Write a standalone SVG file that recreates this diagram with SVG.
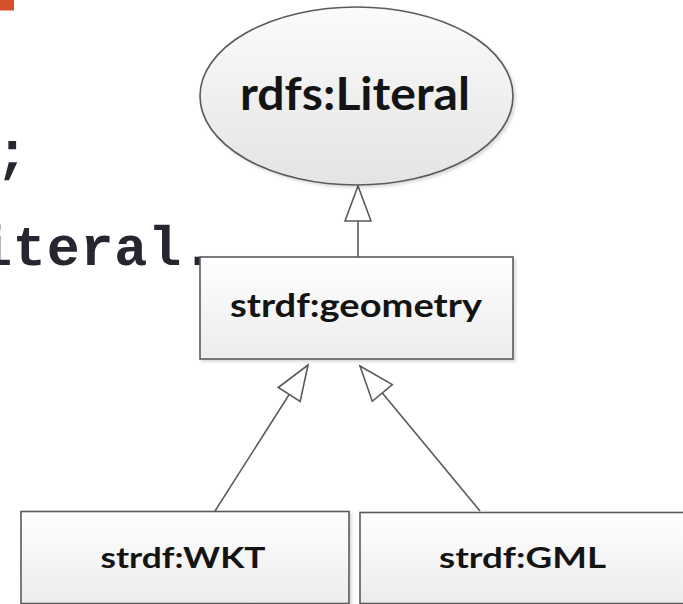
<svg xmlns="http://www.w3.org/2000/svg" width="683" height="604" viewBox="0 0 683 604">
  <style>
    .node-shape { stroke: #5a5a5a; stroke-width: 1.6; }
    .label { font-family: Lato, "Open Sans", "Liberation Sans", sans-serif; font-weight: bold; fill: #141414; text-anchor: middle; }
    .code { font-family: "Liberation Mono", "DejaVu Sans Mono", monospace; font-weight: bold; fill: #262630; font-size: 55px; }
    .edge { stroke: #5a5a5a; stroke-width: 1.6; fill: none; marker-start: url(#gen); }
  </style>
  <defs>
    <linearGradient id="fillEll" x1="0" y1="0" x2="0" y2="1">
      <stop offset="0" stop-color="#fbfbfb"/>
      <stop offset="1" stop-color="#e4e4e4"/>
    </linearGradient>
    <linearGradient id="fillBox" x1="0" y1="0" x2="0" y2="1">
      <stop offset="0" stop-color="#ffffff"/>
      <stop offset="1" stop-color="#ececec"/>
    </linearGradient>
    <filter id="shadow" x="-10%" y="-10%" width="130%" height="130%">
      <feDropShadow dx="2" dy="2" stdDeviation="1.5" flood-color="#000" flood-opacity="0.15"/>
    </filter>
    <marker id="gen" markerUnits="userSpaceOnUse" markerWidth="40" markerHeight="32" viewBox="-2 -16 40 32" refX="0" refY="0" orient="auto">
      <path d="M0,0 L35,-13 L35,13 Z" fill="#ffffff" stroke="#5a5a5a" stroke-width="1.6" stroke-linejoin="miter"/>
    </marker>
  </defs>

  <rect x="0" y="0" width="683" height="604" fill="#ffffff"/>

  <!-- background fragments -->
  <rect x="0" y="0" width="14" height="10.5" fill="#d6502c"/>
  <text class="code" x="12" y="170" text-anchor="middle">;</text>
  <text class="code" x="-21" y="265" textLength="236" lengthAdjust="spacing">iteral.</text>

  <g id="connectors">
    <line class="edge" x1="358" y1="186" x2="358" y2="257"/>
    <line class="edge" x1="308" y1="365" x2="215" y2="511"/>
    <line class="edge" x1="360" y1="366" x2="480" y2="511"/>
  </g>

  <g id="node-rdfs-literal">
    <ellipse class="node-shape" cx="356.5" cy="96" rx="156.5" ry="89" fill="url(#fillEll)" filter="url(#shadow)"/>
    <text class="label" x="355" y="110" font-size="46" textLength="230" lengthAdjust="spacingAndGlyphs">rdfs:Literal</text>
  </g>

  <g id="node-strdf-geometry">
    <rect class="node-shape" x="200" y="257" width="313" height="102" fill="url(#fillBox)" filter="url(#shadow)"/>
    <text class="label" x="356" y="317" font-size="33" textLength="252" lengthAdjust="spacingAndGlyphs">strdf:geometry</text>
  </g>

  <g id="node-strdf-wkt">
    <rect class="node-shape" x="21" y="511.5" width="328" height="92" fill="url(#fillBox)" filter="url(#shadow)"/>
    <text class="label" x="183" y="568" font-size="29" textLength="165" lengthAdjust="spacingAndGlyphs">strdf:WKT</text>
  </g>

  <g id="node-strdf-gml">
    <rect class="node-shape" x="360" y="512.5" width="330" height="91" fill="url(#fillBox)" filter="url(#shadow)"/>
    <text class="label" x="522.5" y="568" font-size="29" textLength="167" lengthAdjust="spacingAndGlyphs">strdf:GML</text>
  </g>
</svg>
